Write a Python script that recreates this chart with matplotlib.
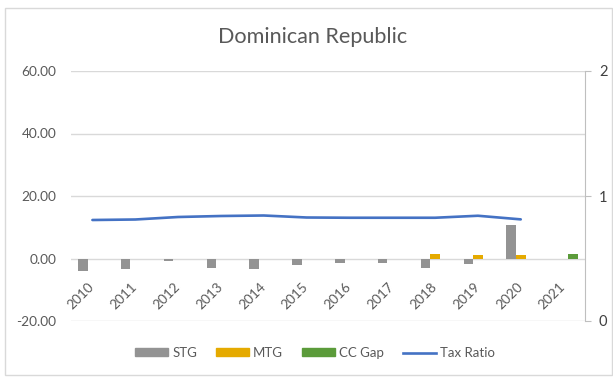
import matplotlib
matplotlib.use("Agg")
import matplotlib.pyplot as plt
import matplotlib.transforms as mtransforms
from matplotlib.patches import Rectangle, Patch
from matplotlib.lines import Line2D
import numpy as np

plt.rcParams['font.family'] = ['Lato', 'DejaVu Sans']

years = ["2010", "2011", "2012", "2013", "2014", "2015", "2016", "2017", "2018", "2019", "2020", "2021"]
stg = [-4.0, -3.5, -0.9, -2.9, -3.4, -2.2, -1.5, -1.5, -3.1, -1.9, 10.8, np.nan]
mtg = [np.nan, np.nan, np.nan, np.nan, np.nan, np.nan, np.nan, np.nan, 1.3, 1.0, 1.0, np.nan]
cc_gap = [np.nan, np.nan, np.nan, np.nan, np.nan, np.nan, np.nan, np.nan, np.nan, np.nan, np.nan, 1.6]
tax_ratio = [0.808, 0.812, 0.832, 0.840, 0.844, 0.828, 0.826, 0.826, 0.826, 0.842, 0.813]
left_ticks = [-20, 0, 20, 40, 60]
right_ticks = [0, 1, 2]

c_stg = "#939393"
c_mtg = "#E5AA00"
c_cc = "#5B9B3A"
c_tax = "#4472C4"
txt = "#595959"
grid = "#D9D9D9"

fig = plt.figure(figsize=(6.13, 3.77), dpi=100)
fig.patch.set_facecolor("white")
fig.patches.append(Rectangle((5/613, 2/377), (612-5)/613, (369-2)/377, transform=fig.transFigure,
                             fill=False, edgecolor=grid, linewidth=1.0))

ax = fig.add_axes([71/613, 56/377, (585-71)/613, (321-71)/377])
x = np.arange(len(years))
w = 0.222
ax.bar(x - w, stg, width=w, color=c_stg, zorder=3)
ax.bar(x, mtg, width=w, color=c_mtg, zorder=3)
ax.bar(x + w, cc_gap, width=w, color=c_cc, zorder=3)

ax.set_xlim(-0.5, len(years) - 0.5)
ax.set_ylim(-20, 60)
ax.set_yticks(left_ticks)
ax.set_yticklabels([f"{v:.2f}" for v in left_ticks])
ax.tick_params(axis='y', length=0, pad=10.5, labelsize=9.8, labelcolor=txt)
ax.set_xticks([])
for s in ax.spines.values():
    s.set_visible(False)
for v in left_ticks:
    ax.axhline(v, color=grid, linewidth=1.0, zorder=1)

trans = mtransforms.offset_copy(ax.transData, fig=fig, x=4, y=-22, units='dots')
for i, lab in enumerate(years):
    ax.text(i, 0, lab, transform=trans, rotation=45, ha='right', va='top',
            fontsize=9.8, color=txt)

ax2 = ax.twinx()
ax2.plot(np.arange(len(tax_ratio)), tax_ratio, color=c_tax, linewidth=1.9, zorder=4,
         solid_capstyle='round')
ax2.set_ylim(0, 2)
ax2.set_yticks(right_ticks)
ax2.set_yticklabels([str(v) for v in right_ticks])
for s in ax2.spines.values():
    s.set_visible(False)
ax2.spines['right'].set_visible(True)
ax2.spines['right'].set_color("#BFBFBF")
ax2.tick_params(axis='y', length=4, color="#BFBFBF", pad=6, labelsize=10.5, labelcolor="#404040")

fig.text(313/613, 1 - 37/377, "Dominican Republic", ha='center', va='center',
         fontsize=15.6, color=txt)

handles = [Patch(color=c_stg), Patch(color=c_mtg), Patch(color=c_cc),
           Line2D([], [], color=c_tax, linewidth=1.9)]
labels = ["STG", "MTG", "CC Gap", "Tax Ratio"]
fig.legend(handles, labels, loc='center', bbox_to_anchor=(315/613, 1 - 353/377), ncol=4,
           frameon=False, fontsize=9.5, labelcolor=txt, handlelength=2.5, handleheight=0.55,
           handletextpad=0.3, columnspacing=1.45)

fig.savefig("out.png", dpi=100, facecolor="white")
